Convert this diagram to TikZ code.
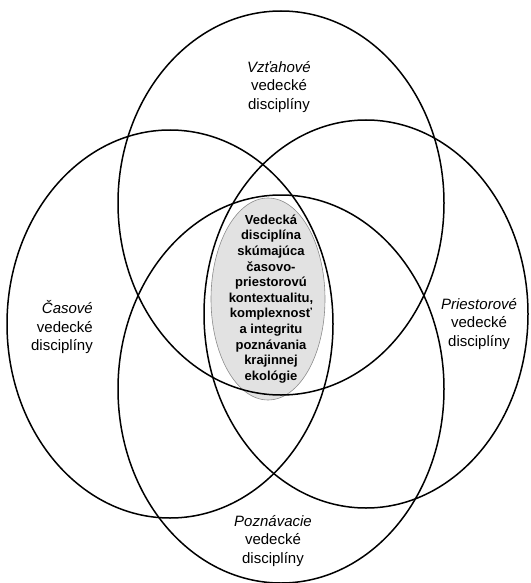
\documentclass[tikz,border=0pt]{standalone}
\usepackage{fontspec}
\setmainfont{Liberation Sans}
\usepackage{xcolor}
\usepackage{tikz}
\definecolor{corefill}{RGB}{226,226,226}
\definecolor{coreline}{RGB}{140,140,140}

\begin{document}
\begin{tikzpicture}[x=1pt,y=-1pt,
  ring/.style={line width=1.5pt},
  lbl/.style={align=center,font=\fontsize{15}{18.5}\selectfont},
  core/.style={align=center,font=\bfseries\fontsize{13}{15.6}\selectfont}]
\useasboundingbox (0,0) rectangle (530,583);
\def\topring{(281,203) ellipse (163 and 192)}
  \def\leftring{(170,324) ellipse (163 and 194)}
  \def\rightring{(366,314) ellipse (162 and 194)}
  \def\bottomring{(281,389) ellipse (163 and 194)}
  \def\coreoval{(268,299) ellipse (57 and 101)}
      \fill[corefill] \coreoval;
      \draw[coreline,line width=.6pt] \coreoval;
      \draw[ring] \topring;
      \draw[ring] \leftring;
      \draw[ring] \rightring;
      \draw[ring] \bottomring;
      \node[lbl] (vztah) at (279,87) {\textit{Vzťahové}\\vedecké\\disciplíny};
      \node[lbl,align=right] (cas) at (62,327) {\textit{Časové}\\vedecké\\disciplíny};
      \node[lbl] (priestor) at (479,324) {\textit{Priestorové}\\vedecké\\disciplíny};
      \node[lbl] (poznanie) at (273,541) {\textit{Poznávacie}\\vedecké\\disciplíny};
      \node[core] (jadro) at (271,299) {Vedecká\\disciplína\\skúmajúca\\časovo-\\priestorovú\\kontextualitu,\\komplexnosť\\a integritu\\poznávania\\krajinnej\\ekológie};
\end{tikzpicture}
\end{document}
